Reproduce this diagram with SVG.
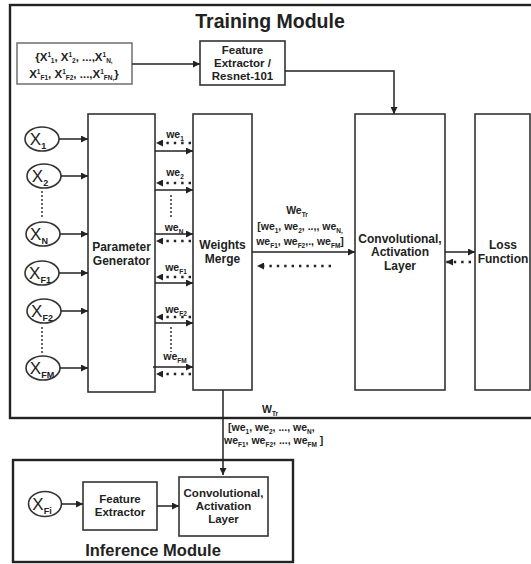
<svg xmlns="http://www.w3.org/2000/svg" width="531" height="564" viewBox="0 0 531 564">
<defs>
<marker id="ah" viewBox="0 0 10 10" refX="10" refY="5" markerWidth="9" markerHeight="7" markerUnits="userSpaceOnUse" orient="auto"><path d="M0,0 L10,5 L0,10 z" fill="#222"/></marker>
<style>
text{font-family:"Liberation Sans",Arial,sans-serif;font-weight:bold;fill:#222}
.box{fill:#fff;stroke:#333;stroke-width:1.6}
.mod{fill:none;stroke:#222;stroke-width:2.4}
.ln{fill:none;stroke:#222;stroke-width:1.5}
.arr{fill:none;stroke:#222;stroke-width:1.5;marker-end:url(#ah)}
.dot{fill:none;stroke:#222;stroke-width:2.4;stroke-dasharray:2.4 5;marker-end:url(#ah)}
.vdot{fill:none;stroke:#333;stroke-width:1.5;stroke-dasharray:2 2}
.c{text-anchor:middle}
.lbl{font-size:12px}
.we{font-size:10.5px}
.s{font-size:6.5px}
.x{font-size:17px;font-weight:normal}
.xs{font-size:9px;font-weight:bold}
</style>
</defs>

<g id="training-module">
<rect class="mod" x="10" y="5" width="530" height="413"/>
<text x="270" y="28" class="c" style="font-size:19.5px">Training Module</text>
</g>

<g id="input-set">
<rect x="17" y="43" width="115" height="41" fill="#fff" stroke="#777" stroke-width="1.6"/>
<text x="74" y="61" class="c" style="font-size:11.5px">{X<tspan class="s" dy="-4">1</tspan><tspan class="s" dy="6">1</tspan><tspan dy="-2">, X</tspan><tspan class="s" dy="-4">1</tspan><tspan class="s" dy="6">2</tspan><tspan dy="-2">, ...,X</tspan><tspan class="s" dy="-4">1</tspan><tspan class="s" dy="6">N,</tspan></text>
<text x="74" y="78" class="c" style="font-size:11.5px">X<tspan class="s" dy="-4">1</tspan><tspan class="s" dy="6">F1</tspan><tspan dy="-2">, X</tspan><tspan class="s" dy="-4">1</tspan><tspan class="s" dy="6">F2</tspan><tspan dy="-2">, ...,X</tspan><tspan class="s" dy="-4">1</tspan><tspan class="s" dy="6">FN,</tspan><tspan dy="-2">}</tspan></text>
</g>

<g id="feature-extractor-resnet">
<rect class="box" x="200" y="41" width="85" height="44"/>
<text x="242.5" y="54" class="c" style="font-size:11.5px">Feature</text>
<text x="242.5" y="67" class="c" style="font-size:11.5px">Extractor /</text>
<text x="242.5" y="80" class="c" style="font-size:11.5px">Resnet-101</text>
</g>

<g id="parameter-generator">
<rect class="box" x="88" y="114" width="67" height="278"/>
<text x="121.5" y="251" class="c lbl">Parameter</text>
<text x="121.5" y="265" class="c lbl">Generator</text>
</g>

<g id="weights-merge">
<rect class="box" x="193" y="114" width="59" height="276"/>
<text x="222.5" y="249" class="c lbl">Weights</text>
<text x="222.5" y="263" class="c lbl">Merge</text>
</g>

<g id="conv-layer">
<rect class="box" x="355" y="114" width="90" height="276"/>
<text x="400" y="243" class="c lbl">Convolutional,</text>
<text x="400" y="256" class="c lbl">Activation</text>
<text x="400" y="270" class="c lbl">Layer</text>
</g>

<g id="loss-function">
<rect class="box" x="475" y="114" width="55" height="276"/>
<text x="503" y="249" class="c lbl">Loss</text>
<text x="503" y="263" class="c lbl">Function</text>
</g>

<g id="x1"><ellipse class="box" cx="42" cy="139" rx="17" ry="12"/><text x="38" y="145" class="c x">X<tspan class="xs" dy="4">1</tspan></text></g>
<g id="x2"><ellipse class="box" cx="44" cy="176" rx="17" ry="12"/><text x="40" y="182" class="c x">X<tspan class="xs" dy="4">2</tspan></text></g>
<g id="xn"><ellipse class="box" cx="43" cy="234" rx="17" ry="12"/><text x="39" y="240" class="c x">X<tspan class="xs" dy="4">N</tspan></text></g>
<g id="xf1"><ellipse class="box" cx="42" cy="273" rx="17" ry="12"/><text x="40" y="279" class="c x">X<tspan class="xs" dy="4">F1</tspan></text></g>
<g id="xf2"><ellipse class="box" cx="44" cy="311" rx="17" ry="12"/><text x="42" y="317" class="c x">X<tspan class="xs" dy="4">F2</tspan></text></g>
<g id="xfm"><ellipse class="box" cx="43" cy="368" rx="17" ry="12"/><text x="42" y="374" class="c x">X<tspan class="xs" dy="4">FM</tspan></text></g>

<g id="inference-module">
<rect class="mod" x="13" y="460" width="280" height="102"/>
<text x="153" y="556" class="c" style="font-size:16.5px">Inference Module</text>
</g>
<g id="xfi"><ellipse class="box" cx="45" cy="504" rx="16.5" ry="12.5"/><text x="42" y="510" class="c x">X<tspan class="xs" dy="4">Fi</tspan></text></g>
<g id="inf-feature-extractor">
<rect class="box" x="83" y="482" width="74" height="48"/>
<text x="120" y="503" class="c" style="font-size:11.5px">Feature</text>
<text x="120" y="516" class="c" style="font-size:11.5px">Extractor</text>
</g>
<g id="inf-conv-layer">
<rect class="box" x="179" y="477" width="89" height="59"/>
<text x="223.5" y="497" class="c" style="font-size:11.5px">Convolutional,</text>
<text x="223.5" y="510" class="c" style="font-size:11.5px">Activation</text>
<text x="223.5" y="523" class="c" style="font-size:11.5px">Layer</text>
</g>

<g id="connectors">
<path class="arr" d="M132,64 H200"/>
<path class="arr" d="M285,71 H394 V114"/>
<path class="arr" d="M59,139 H88"/>
<path class="arr" d="M61,176 H88"/>
<path class="arr" d="M60,234 H88"/>
<path class="arr" d="M59,273 H88"/>
<path class="arr" d="M61,311 H88"/>
<path class="arr" d="M60,368 H88"/>
<path class="vdot" d="M42,191 V219"/>
<path class="vdot" d="M42,327 V353"/>

<path class="dot" d="M191,143 H156"/>
<path class="arr" d="M155,151 H193"/>
<path class="dot" d="M191,183 H156"/>
<path class="arr" d="M155,190 H193"/>
<path class="vdot" d="M171,195 V219"/>
<path class="arr" d="M155,234 H193"/>
<path class="dot" d="M191,241 H156"/>
<path class="dot" d="M191,277 H156"/>
<path class="arr" d="M155,283 H193"/>
<path class="dot" d="M191,317 H156"/>
<path class="arr" d="M155,323 H193"/>
<path class="vdot" d="M171,327 V352"/>
<path class="arr" d="M153,367 H193"/>
<path class="dot" d="M191,374 H156"/>

<text x="175" y="138" class="c we">we<tspan class="s" dy="3">1</tspan></text>
<text x="175" y="176" class="c we">we<tspan class="s" dy="3">2</tspan></text>
<text x="174" y="231" class="c we">we<tspan class="s" dy="3">N</tspan></text>
<text x="176" y="271" class="c we">we<tspan class="s" dy="3">F1</tspan></text>
<text x="176" y="313" class="c we">we<tspan class="s" dy="3">F2</tspan></text>
<text x="175" y="360" class="c we">we<tspan class="s" dy="3">FM</tspan></text>

<path class="arr" d="M252,252 H355"/>
<path class="dot" d="M331,266 H257"/>
<text x="297" y="214" class="c we">We<tspan class="s" dy="3">Tr</tspan></text>
<text x="300" y="230" class="c we">[we<tspan class="s" dy="3">1</tspan><tspan dy="-3">, we</tspan><tspan class="s" dy="3">2</tspan><tspan dy="-3">, ..,, we</tspan><tspan class="s" dy="3">N,</tspan></text>
<text x="300" y="245" class="c we">we<tspan class="s" dy="3">F1</tspan><tspan dy="-3">, we</tspan><tspan class="s" dy="3">F2</tspan><tspan dy="-3">,., we</tspan><tspan class="s" dy="3">FM</tspan><tspan dy="-3">]</tspan></text>

<path class="arr" d="M445,252 H475"/>
<path class="dot" d="M471,262 H446"/>

<path class="arr" d="M223,390 V475"/>
<text x="270" y="413" class="c we">W<tspan class="s" dy="3">Tr</tspan></text>
<text x="228" y="431" class="we">[we<tspan class="s" dy="3">1</tspan><tspan dy="-3">, we</tspan><tspan class="s" dy="3">2</tspan><tspan dy="-3">, ..., we</tspan><tspan class="s" dy="3">N</tspan><tspan dy="-3">,</tspan></text>
<text x="224" y="444" class="we">we<tspan class="s" dy="3">F1</tspan><tspan dy="-3">, we</tspan><tspan class="s" dy="3">F2</tspan><tspan dy="-3">, ..., we</tspan><tspan class="s" dy="3">FM</tspan><tspan dy="-3"> ]</tspan></text>

<path class="arr" d="M61,504 H83"/>
<path class="arr" d="M157,506 H179"/>
</g>
</svg>
